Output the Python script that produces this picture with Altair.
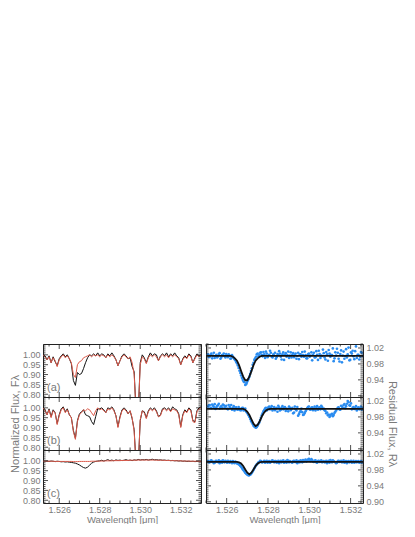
import altair as alt
import pandas as pd
import numpy as np

# ---------------- data ----------------
XL = [1.5252, 1.5330]
XR = [1.5250, 1.5326]
YL = [0.786, 1.055]
YR = [0.897, 1.030]

x_major = [1.526, 1.528, 1.530, 1.532]
yl_major = [0.80, 0.85, 0.90, 0.95, 1.00]
yr_major = [0.90, 0.94, 0.98, 1.02]

# wavelength grids (sampling of the spectra / residuals)
wl_spec = [round(1.5252 + 0.0001 * i, 4) for i in range(79)]
wl_fit = [round(1.5250 + 0.0001 * i, 4) for i in range(77)]
wl_res = [round(1.5251 + 0.00008 * j, 5) for j in range(96)]
wl_res2 = [round(1.52514 + 0.00008 * j, 5) for j in range(96)]

red_a = [1.000, 0.990, 0.975, 0.990, 0.960, 0.985, 0.970, 0.940, 0.975, 0.990,
         1.000, 0.985, 0.995, 0.980, 0.960, 0.900, 0.885, 0.950, 0.965, 0.970,
         0.985, 0.990, 0.995, 1.000, 0.990, 1.000, 0.995, 1.000, 0.990, 1.000,
         0.995, 0.985, 1.000, 0.990, 1.000, 0.990, 0.975, 0.945, 0.970, 0.990,
         1.000, 0.990, 0.980, 0.990, 0.960, 0.900, 0.700, 0.700, 0.950, 0.990,
         0.980, 0.955, 0.985, 1.000, 0.990, 1.000, 0.990, 0.970, 0.990, 1.000,
         0.990, 1.000, 0.985, 1.000, 0.990, 1.000, 0.990, 0.980, 0.950, 0.975,
         0.990, 0.980, 1.000, 0.990, 0.960, 0.980, 1.000, 0.990, 1.000]
black_a = [1.005, 0.995, 0.975, 0.995, 0.960, 0.990, 0.965, 0.945, 0.980, 0.995,
           1.005, 0.990, 1.000, 0.980, 0.955, 0.870, 0.845, 0.910, 0.900, 0.905,
           0.930, 0.960, 0.985, 1.000, 0.995, 1.005, 0.995, 1.010, 0.995, 1.005,
           1.000, 0.985, 1.005, 0.995, 1.010, 0.995, 0.975, 0.945, 0.970, 0.995,
           1.005, 0.995, 0.980, 0.985, 0.940, 0.915, 0.700, 0.700, 0.960, 1.000,
           0.985, 0.960, 0.990, 1.010, 0.995, 1.005, 1.000, 0.970, 0.995, 1.005,
           0.995, 1.010, 0.990, 1.005, 0.995, 1.010, 0.995, 0.985, 0.950, 0.980,
           0.995, 0.985, 1.005, 0.995, 0.960, 0.985, 1.005, 0.995, 1.000]
red_b = [1.000, 0.985, 0.965, 0.990, 0.950, 0.985, 0.975, 0.915, 0.960, 0.990,
         1.000, 0.975, 0.990, 0.965, 0.950, 0.880, 0.840, 0.930, 0.965, 0.975,
         0.990, 0.985, 0.995, 0.990, 0.975, 0.960, 0.985, 1.000, 0.990, 0.995,
         0.985, 0.975, 0.995, 0.990, 1.000, 0.985, 0.960, 0.900, 0.950, 0.985,
         0.995, 0.985, 0.970, 0.985, 0.950, 0.880, 0.700, 0.700, 0.940, 0.985,
         0.975, 0.945, 0.980, 0.995, 0.985, 0.995, 0.980, 0.955, 0.960, 0.990,
         0.995, 0.985, 0.995, 0.980, 0.995, 0.990, 0.985, 0.965, 0.900, 0.960,
         0.985, 0.975, 0.995, 0.985, 0.930, 0.925, 0.980, 0.995, 1.000]
black_b = [1.005, 0.990, 0.965, 0.995, 0.955, 0.990, 0.975, 0.920, 0.965, 0.995,
           1.005, 0.980, 0.995, 0.965, 0.950, 0.885, 0.845, 0.935, 0.970, 0.980,
           0.990, 0.965, 0.960, 0.955, 0.930, 0.915, 0.955, 0.995, 0.995, 1.000,
           0.990, 0.975, 1.000, 0.995, 1.005, 0.990, 0.960, 0.905, 0.955, 0.990,
           1.000, 0.990, 0.970, 0.985, 0.945, 0.890, 0.700, 0.700, 0.935, 0.985,
           0.980, 0.950, 0.985, 1.000, 0.990, 1.000, 0.985, 0.955, 0.965, 0.995,
           1.000, 0.990, 1.000, 0.985, 1.005, 0.995, 0.990, 0.970, 0.905, 0.965,
           0.990, 0.980, 1.000, 0.990, 0.935, 0.930, 0.985, 1.000, 1.005]
red_c = [0.999, 0.999, 0.998, 0.998, 0.998, 0.998, 0.997, 0.997, 0.997, 0.997,
         0.997, 0.997, 0.997, 0.997, 0.997, 0.996, 0.996, 0.996, 0.997, 0.997,
         0.997, 0.997, 0.997, 0.997, 0.998, 0.998, 0.998, 0.998, 0.999, 0.999,
         0.999, 1.000, 1.000, 1.000, 1.000, 1.001, 1.001, 1.001, 1.001, 1.002,
         1.002, 1.002, 1.002, 1.003, 1.003, 1.003, 1.003, 1.004, 1.004, 1.004,
         1.004, 1.004, 1.004, 1.004, 1.004, 1.004, 1.003, 1.003, 1.003, 1.003,
         1.002, 1.002, 1.002, 1.001, 1.001, 1.001, 1.000, 1.000, 1.000, 0.999,
         0.999, 0.999, 0.999, 0.998, 0.998, 0.998, 0.998, 0.998, 0.998]
black_c = [1.000, 0.998, 0.999, 0.997, 0.999, 0.998, 0.996, 0.998, 0.997, 0.995,
           0.996, 0.994, 0.995, 0.993, 0.992, 0.990, 0.988, 0.984, 0.979, 0.972,
           0.966, 0.963, 0.968, 0.978, 0.988, 0.994, 0.997, 0.999, 1.000, 1.003,
           0.999, 1.002, 1.006, 1.001, 1.004, 1.000, 1.005, 1.002, 1.004, 1.001,
           1.003, 1.006, 1.002, 1.004, 1.001, 1.005, 1.003, 1.007, 1.004, 1.006,
           1.005, 1.007, 1.004, 1.006, 1.008, 1.005, 1.006, 1.004, 1.005, 1.003,
           1.004, 1.002, 1.003, 1.001, 1.002, 1.000, 1.001, 0.999, 1.000, 0.998,
           0.999, 0.997, 0.998, 0.997, 0.998, 0.996, 0.997, 0.998, 0.997]

res_a = [1.004, 0.998, 1.006, 1.001, 0.995, 1.003, 0.999, 1.007, 0.996, 1.002,
         0.999, 1.005, 0.997, 1.001, 0.994, 0.998, 0.992, 0.985, 0.976, 0.963,
         0.951, 0.940, 0.934, 0.929, 0.938, 0.948, 0.962, 0.978, 0.990, 0.998,
         1.006, 1.002, 1.009, 0.999, 1.004, 1.011, 0.997, 1.003, 1.008, 0.996,
         1.001, 0.993, 1.005, 1.012, 0.998, 1.004, 0.990, 1.007, 1.002, 0.995,
         1.009, 1.003, 0.997, 1.006, 1.000, 0.992, 1.004, 1.010, 0.998, 1.002,
         0.994, 1.006, 1.001, 0.989, 1.008, 0.997, 1.003, 1.013, 0.995, 1.000,
         1.007, 0.991, 1.004, 1.015, 0.998, 1.002, 0.987, 1.009, 1.018, 0.993,
         1.005, 0.984, 1.011, 1.000, 0.996, 1.021, 0.990, 1.006, 0.999, 1.012,
         0.995, 1.003, 0.998, 1.008, 1.001, 0.997]
res_a2 = [0.997, 1.003, 0.994, 1.008, 1.000, 0.996, 1.005, 0.993, 1.002, 1.006,
          0.996, 1.001, 1.004, 0.993, 1.002, 0.995, 0.989, 0.981, 0.970, 0.957,
          0.945, 0.936, 0.927, 0.933, 0.942, 0.955, 0.969, 0.983, 0.994, 1.004,
          0.999, 1.008, 1.003, 1.010, 0.995, 1.006, 1.001, 1.013, 0.998, 1.004,
          1.008, 0.997, 1.002, 1.006, 0.991, 1.009, 1.003, 0.998, 1.011, 1.001,
          0.996, 1.007, 1.002, 0.993, 1.008, 1.004, 0.998, 1.002, 1.011, 0.994,
          1.004, 0.998, 1.009, 1.003, 0.996, 1.012, 0.990, 1.005, 1.001, 1.016,
          0.996, 1.010, 0.988, 1.006, 1.002, 1.019, 0.994, 1.001, 1.008, 0.986,
          1.014, 1.001, 0.993, 1.017, 1.004, 0.989, 1.009, 1.013, 0.992, 1.024,
          1.003, 0.991, 1.010, 1.000, 1.015, 0.994]
res_b = [1.006, 1.010, 1.002, 1.008, 1.012, 1.004, 1.009, 1.001, 1.007, 1.011,
         1.003, 1.008, 0.999, 1.005, 1.010, 1.002, 0.996, 1.004, 0.998, 1.001,
         0.997, 1.003, 0.999, 0.994, 0.988, 0.980, 0.970, 0.962, 0.956, 0.953,
         0.958, 0.966, 0.978, 0.989, 0.997, 1.003, 0.999, 1.006, 1.002, 0.996,
         1.005, 1.001, 0.993, 1.004, 0.998, 1.007, 1.002, 0.995, 1.000, 1.006,
         0.997, 1.003, 0.991, 0.999, 1.005, 0.987, 0.995, 0.992, 0.986, 0.994,
         1.002, 1.006, 0.998, 1.004, 1.001, 0.996, 1.007, 1.003, 0.999, 1.005,
         1.001, 0.995, 0.991, 0.986, 0.983, 0.988, 0.985, 0.993, 1.000, 1.004,
         0.998, 1.006, 1.010, 1.002, 1.013, 1.017, 1.008, 0.999, 1.005, 1.002,
         0.996, 1.004, 1.001, 0.998, 1.003, 1.000]
res_b2 = [1.009, 1.003, 1.011, 1.005, 1.000, 1.008, 1.013, 1.004, 1.002, 1.009,
          1.006, 1.001, 1.010, 1.003, 0.998, 1.007, 1.002, 0.999, 1.005, 0.997,
          1.002, 0.996, 1.001, 0.991, 0.984, 0.975, 0.966, 0.958, 0.954, 0.955,
          0.962, 0.972, 0.984, 0.994, 1.001, 0.996, 1.004, 0.999, 1.007, 1.001,
          0.997, 1.003, 1.008, 0.996, 1.002, 0.999, 1.005, 1.001, 0.994, 1.003,
          1.000, 0.989, 1.006, 0.996, 0.983, 0.992, 1.001, 0.985, 0.990, 0.998,
          1.005, 0.999, 1.003, 0.997, 1.006, 1.002, 0.998, 1.004, 1.008, 1.000,
          0.997, 0.989, 0.984, 0.980, 0.986, 0.982, 0.990, 0.996, 1.003, 0.999,
          1.008, 1.003, 1.012, 1.007, 1.020, 1.009, 1.014, 1.003, 1.000, 1.007,
          1.002, 0.999, 1.006, 1.002, 0.997, 1.004]
res_c = [1.002, 0.999, 1.004, 1.001, 0.998, 1.003, 1.000, 0.997, 1.002, 1.004,
         0.999, 1.001, 1.003, 0.998, 1.000, 1.002, 0.997, 0.999, 0.996, 0.993,
         0.988, 0.982, 0.976, 0.971, 0.968, 0.967, 0.970, 0.976, 0.984, 0.991,
         0.996, 1.000, 1.002, 0.999, 1.003, 1.001, 0.998, 1.002, 1.000, 1.004,
         0.999, 1.002, 1.000, 0.997, 1.003, 1.001, 0.998, 1.002, 1.005, 0.999,
         1.001, 0.998, 1.003, 1.000, 0.997, 1.002, 1.004, 0.999, 1.001, 1.006,
         1.003, 1.008, 1.002, 1.005, 1.000, 1.004, 0.998, 1.003, 1.001, 0.999,
         1.002, 1.000, 0.997, 1.003, 1.005, 0.999, 1.002, 1.000, 0.998, 1.003,
         1.001, 0.999, 1.004, 1.000, 0.997, 1.002, 1.001, 0.998, 1.003, 1.000,
         0.999, 1.002, 1.000, 0.998, 1.001, 1.000]
res_c2 = [0.999, 1.003, 1.000, 0.997, 1.002, 1.000, 1.004, 1.001, 0.998, 1.001,
          1.003, 0.998, 1.000, 1.002, 0.997, 0.999, 1.001, 0.996, 0.994, 0.990,
          0.985, 0.979, 0.973, 0.969, 0.966, 0.968, 0.973, 0.980, 0.988, 0.994,
          0.999, 1.003, 0.999, 1.001, 0.998, 1.003, 1.000, 0.998, 1.003, 1.001,
          1.002, 0.998, 1.003, 1.001, 0.999, 1.004, 1.000, 0.998, 1.003, 1.002,
          0.999, 1.002, 1.000, 1.004, 1.001, 0.999, 1.002, 1.005, 1.003, 1.001,
          1.006, 1.004, 1.007, 1.001, 1.003, 0.999, 1.002, 1.000, 1.004, 1.001,
          0.999, 1.003, 1.001, 0.998, 1.002, 1.004, 1.000, 0.997, 1.002, 1.000,
          1.003, 1.000, 0.998, 1.002, 1.001, 0.999, 1.003, 1.000, 0.998, 1.002,
          1.001, 0.998, 1.002, 1.000, 0.999, 1.002]

fit_a = [1.000] * 13 + [0.998, 0.994, 0.988, 0.977, 0.962, 0.948, 0.939,
                        0.939, 0.948, 0.962, 0.977, 0.988, 0.994, 0.998] + [1.000] * 50
fit_b = [1.000] * 19 + [0.998, 0.993, 0.985, 0.974, 0.963, 0.957, 0.960,
                        0.969, 0.981, 0.990, 0.996, 0.999] + [1.000] * 46
fit_c = [1.000] * 16 + [0.999, 0.996, 0.990, 0.981, 0.973, 0.969, 0.973,
                        0.981, 0.990, 0.996, 0.999] + [1.000] * 50

panel_labels = ["(a)", "(b)", "(c)"]

# ---------------- style ----------------
FONT = "Liberation Sans"
FRAME = "#222222"
LBL = "#7a7a7a"
RED = "#dc5a4b"
BLUE = "#2a8cf0"
WL, WR, H = 158, 157, 53


def sc(dom):
    return alt.Scale(domain=dom, nice=False, zero=False)


def in_dom(vals, dom):
    return [v for v in vals if dom[0] - 1e-9 <= v <= dom[1] + 1e-9]


def minor_vals(dom, step, major):
    k0 = int(np.ceil(dom[0] / step - 1e-6))
    k1 = int(np.floor(dom[1] / step + 1e-6))
    out = []
    for k in range(k0, k1 + 1):
        v = round(k * step, 6)
        if all(abs(v - m) > 1e-7 for m in major):
            out.append(v)
    return out


def tick_layers(xdom, ydom, ymajor, ystep, W, xax, yax):
    layers = []
    xma = in_dom(x_major, xdom)
    xmi = minor_vals(xdom, 0.0005, x_major)
    for vals, L in ((xma, 5), (xmi, 2.5)):
        df = pd.DataFrame({"t": vals})
        for y0, y1 in ((0, L), (H, H - L)):
            layers.append(alt.Chart(df).mark_rule(color=FRAME, strokeWidth=0.8).encode(
                x=alt.X("t:Q", scale=sc(xdom), axis=xax),
                y=alt.value(y0), y2=alt.value(y1)))
    yma = in_dom(ymajor, ydom)
    ymi = minor_vals(ydom, ystep, ymajor)
    for vals, L in ((yma, 5), (ymi, 2.5)):
        df = pd.DataFrame({"t": vals})
        for x0, x1 in ((0, L), (W, W - L)):
            layers.append(alt.Chart(df).mark_rule(color=FRAME, strokeWidth=0.8).encode(
                y=alt.Y("t:Q", scale=sc(ydom), axis=yax),
                x=alt.value(x0), x2=alt.value(x1)))
    return layers


def x_axis(bottom):
    if not bottom:
        return None
    return alt.Axis(values=x_major, format=".3f", ticks=False, domain=False, grid=False,
                    labelPadding=2, title="Wavelength [μm]", titlePadding=0,
                    titleFontSize=9.5)


def left_panel(black, red, lab, bottom, mid):
    df = pd.DataFrame({"w": wl_spec, "black": black, "red": red})
    ykw = dict(values=yl_major, format=".2f", ticks=False, domain=False, grid=False,
               labelPadding=3, orient="left")
    if mid:
        ykw.update(title="Normalized Flux, Fλ", titlePadding=2)
    else:
        ykw.update(title="")
    xax = x_axis(bottom)
    yax = alt.Axis(**ykw)
    blk = alt.Chart(df).mark_line(color="#111111", strokeWidth=1, clip=True).encode(
        x=alt.X("w:Q", scale=sc(XL), axis=xax),
        y=alt.Y("black:Q", scale=sc(YL), axis=yax))
    rd = alt.Chart(df).mark_line(color=RED, strokeWidth=1, clip=True).encode(
        x=alt.X("w:Q", scale=sc(XL), axis=xax),
        y=alt.Y("red:Q", scale=sc(YL), axis=yax))
    txt = alt.Chart(pd.DataFrame({"lab": [lab]})).mark_text(
        align="left", baseline="middle", font=FONT, fontSize=11, color=LBL).encode(
        text="lab:N", x=alt.value(4), y=alt.value(H - 9))
    return alt.layer(blk, rd, *tick_layers(XL, YL, yl_major, 0.01, WL, xax, yax),
                     txt).properties(width=WL, height=H)


def right_panel(res, res2, fit, bottom, mid):
    dres = pd.DataFrame({"w": wl_res + wl_res2, "r": res + res2})
    dfit = pd.DataFrame({"w": wl_fit, "f": fit})
    labs = [0.90, 0.94, 0.98, 1.02] if bottom else [0.94, 0.98, 1.02]
    ykw = dict(values=labs, format=".2f", ticks=False, domain=False, grid=False,
               labelPadding=3, orient="right")
    if mid:
        ykw.update(title="Residual Flux, Rλ", titlePadding=3)
    else:
        ykw.update(title="")
    xax = x_axis(bottom)
    yax = alt.Axis(**ykw)
    pts = alt.Chart(dres).mark_point(filled=True, shape="circle", size=7, color=BLUE,
                                     opacity=1, clip=True).encode(
        x=alt.X("w:Q", scale=sc(XR), axis=xax),
        y=alt.Y("r:Q", scale=sc(YR), axis=yax))
    ln = alt.Chart(dfit).mark_line(color="#111111", strokeWidth=1.8, clip=True).encode(
        x=alt.X("w:Q", scale=sc(XR), axis=xax),
        y=alt.Y("f:Q", scale=sc(YR), axis=yax))
    return alt.layer(pts, ln, *tick_layers(XR, YR, yr_major, 0.005, WR, xax, yax)
                     ).properties(width=WR, height=H)


panels = [
    left_panel(black_a, red_a, panel_labels[0], False, False),
    right_panel(res_a, res_a2, fit_a, False, False),
    left_panel(black_b, red_b, panel_labels[1], False, True),
    right_panel(res_b, res_b2, fit_b, False, True),
    left_panel(black_c, red_c, panel_labels[2], True, False),
    right_panel(res_c, res_c2, fit_c, True, False),
]

chart = alt.concat(
    *panels, columns=2, spacing={"row": 0, "column": 5}, bounds="flush"
).resolve_scale(
    x="independent", y="independent"
).properties(
    padding={"left": 0, "top": 335, "right": 0, "bottom": 0}
).configure_view(
    stroke=FRAME, strokeWidth=1
).configure_axis(
    labelFont=FONT, labelFontSize=9, labelColor=LBL,
    titleFont=FONT, titleFontSize=11, titleColor=LBL, titleFontWeight="normal"
)

chart.save("out.html", embed_options={"renderer": "svg", "actions": False})
